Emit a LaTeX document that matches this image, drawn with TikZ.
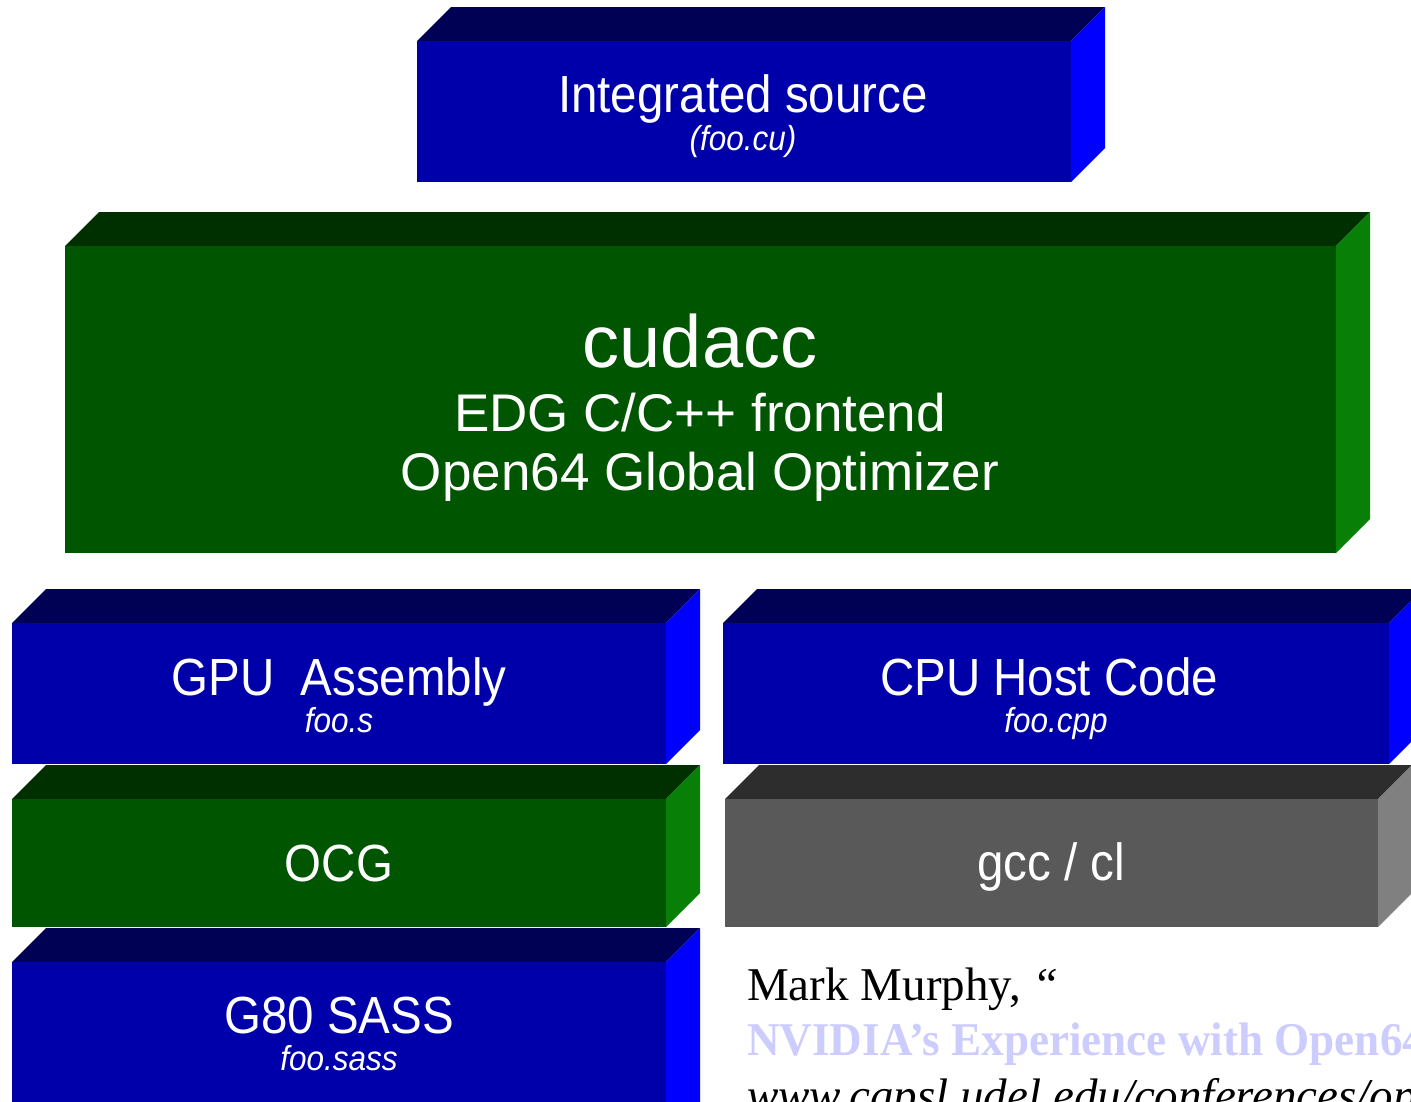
\documentclass[tikz,border=0pt]{standalone}
\usepackage{fontspec}
\setmainfont{Liberation Sans}
\newfontfamily\citefont{Liberation Serif}
\definecolor{bfront}{RGB}{0,0,170}
\definecolor{btop}{RGB}{0,0,85}
\definecolor{bside}{RGB}{0,0,255}
\definecolor{gfront}{RGB}{0,85,0}
\definecolor{gtop}{RGB}{0,48,0}
\definecolor{gside}{RGB}{8,128,8}
\definecolor{kfront}{RGB}{89,89,89}
\definecolor{ktop}{RGB}{45,45,45}
\definecolor{kside}{RGB}{128,128,128}
\definecolor{citeblue}{RGB}{204,204,255}
\newcommand{\slabbox}[7]{%
  \fill[#6] (#1,#2) -- ({#1+34},{#2-34}) -- ({#3+34},{#2-34}) -- (#3,#2) -- cycle;
  \fill[#7] (#3,#2) -- ({#3+34},{#2-34}) -- ({#3+34},{#4-34}) -- (#3,#4) -- cycle;
  \fill[#5] (#1,#2) rectangle (#3,#4);
}
\tikzset{
  lbl/.style={text=white, font=\fontsize{47.5}{50}\selectfont, yscale=1.1, anchor=base, inner sep=0pt},
  sublbl/.style={text=white, font=\fontsize{31.5}{34}\selectfont\itshape, yscale=1.1, anchor=base, inner sep=0pt},
  biglbl/.style={text=white, font=\fontsize{53}{56}\selectfont, anchor=base, inner sep=0pt},
  cite/.style={font=\citefont\fontsize{47}{50}\selectfont, anchor=base west, inner sep=0pt}
}
\begin{document}
\begin{tikzpicture}[x=1pt,y=-1pt]
\useasboundingbox (0,0) rectangle (1411,1101);
\clip (0,0) rectangle (1411,1101);
% boxes
\slabbox{417}{41}{1071}{182}{bfront}{btop}{bside}
\slabbox{65}{246}{1336}{553}{gfront}{gtop}{gside}
\slabbox{12}{623}{666}{764}{bfront}{btop}{bside}
\slabbox{723}{623}{1389}{764}{bfront}{btop}{bside}
\slabbox{12}{799}{666}{927}{gfront}{gtop}{gside}
\slabbox{725}{799}{1378}{927}{kfront}{ktop}{kside}
\slabbox{12}{962}{666}{1150}{bfront}{btop}{bside}
% labels
\node[lbl] (src) at (743,112) {Integrated source};
\node[sublbl] (srcf) at (743,150) {(foo.cu)};
\node[biglbl, font=\fontsize{74}{78}\selectfont] (cud) at (700,367) {cudacc};
\node[biglbl] (edg) at (700,431) {EDG C/C++ frontend};
\node[biglbl] (o64) at (700,490) {Open64 Global Optimizer};
\node[lbl] (gpu) at (339,695) {GPU\ \ Assembly};
\node[sublbl] (gpuf) at (339,732) {foo.s};
\node[lbl] (cpu) at (1049,695) {CPU Host Code};
\node[sublbl] (cpuf) at (1056,732) {foo.cpp};
\node[lbl] (ocg) at (339,881) {OCG};
\node[lbl] (gcc) at (1051,880) {gcc / cl};
\node[lbl] (sass) at (339,1033) {G80 SASS};
\node[sublbl] (sassf) at (339,1070) {foo.sass};
% citation
\node[cite] (c1) at (747,1000) {Mark Murphy, \textit{“}};
\node[cite, text=citeblue, xscale=0.96, font=\citefont\bfseries\fontsize{47}{50}\selectfont] (c2) at (747,1055) {NVIDIA’s Experience with Open64};
\node[cite, font=\citefont\itshape\fontsize{47}{50}\selectfont] (c3) at (747,1111) {www.capsl.udel.edu/conferences/open64};
\end{tikzpicture}
\end{document}
